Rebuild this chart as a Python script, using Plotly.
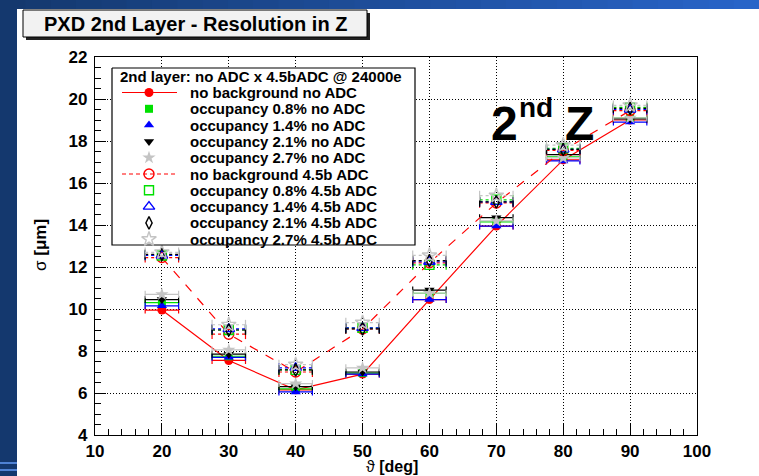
import plotly.graph_objects as go

# ---- data: spatial resolution in Z vs. polar angle, PXD 2nd layer ----
theta = [20, 30, 40, 50, 60, 70, 80, 90]
theta_half_bin = 2.5

no_bg_noadc = [9.95, 7.55, 6.15, 6.9, 10.45, 13.95, 17.1, 19.0]
occ08_noadc = [10.3, 7.75, 6.2, 6.95, 10.75, 14.15, 17.25, 19.1]
occ14_noadc = [10.15, 7.7, 6.05, 6.9, 10.45, 13.95, 17.05, 18.9]
occ21_noadc = [10.45, 7.85, 6.3, 7.0, 10.9, 14.35, 17.35, 19.05]
occ27_noadc = [10.7, 8.05, 6.45, 7.2, 10.75, 14.2, 17.2, 19.1]

no_bg_adc = [12.45, 8.8, 7.0, 9.05, 12.2, 15.05, 17.55, 19.45]
occ08_adc = [12.55, 9.0, 7.1, 9.1, 12.1, 15.2, 17.65, 19.6]
occ14_adc = [12.55, 9.05, 7.2, 9.1, 12.25, 15.1, 17.6, 19.5]
occ21_adc = [12.6, 9.0, 7.1, 9.05, 12.3, 15.1, 17.6, 19.55]
occ27_adc = [12.7, 9.25, 7.35, 9.35, 12.55, 15.4, 17.8, 19.7]

series_labels = [
    "no background no ADC",
    "occupancy 0.8% no ADC",
    "occupancy 1.4% no ADC",
    "occupancy 2.1% no ADC",
    "occupancy 2.7% no ADC",
    "no background 4.5b ADC",
    "occupancy 0.8% 4.5b ADC",
    "occupancy 1.4% 4.5b ADC",
    "occupancy 2.1% 4.5b ADC",
    "occupancy 2.7% 4.5b ADC",
]
legend_title = "2nd layer: no ADC x 4.5bADC @ 24000e"

x_ticks = [10, 20, 30, 40, 50, 60, 70, 80, 90, 100]
y_ticks = [4, 6, 8, 10, 12, 14, 16, 18, 20, 22]

RED, GREEN, BLUE, BLACK, GREY = "#ff0000", "#00e000", "#0000ff", "#000000", "#c4c4c4"

# (values, colour, symbol, size, connecting line dash or None, dashed error bars)
styles = [
    (no_bg_noadc, RED, "circle", 9, "solid", False),
    (occ08_noadc, GREEN, "square", 8, None, False),
    (occ14_noadc, BLUE, "triangle-up", 9, None, False),
    (occ21_noadc, BLACK, "triangle-down", 9, None, False),
    (occ27_noadc, GREY, "star", 10, None, False),
    (no_bg_adc, RED, "circle-open", 10, "dash", True),
    (occ08_adc, GREEN, "square-open", 9, None, True),
    (occ14_adc, BLUE, "triangle-up-open", 10, None, True),
    (occ21_adc, BLACK, "diamond-tall-open", 9, None, True),
    (occ27_adc, GREY, "star-open", 11, None, True),
]

FONT = "Liberation Sans, Arial, Helvetica, sans-serif"
W, H = 759, 476
L, R, T, B = 95, 697, 57, 435  # plot frame in pixels


def px2x(px):
    return (px - L) / (R - L)


def py2y(py):
    return (B - py) / (B - T)


fig = go.Figure()

for i, (vals, col, sym, size, dash, dashed_err) in enumerate(styles):
    if dashed_err:
        sx, sy = [], []
        for xv, yv in zip(theta, vals):
            sx += [xv - theta_half_bin, xv + theta_half_bin, None]
            sy += [yv, yv, None]
        fig.add_trace(go.Scatter(
            x=sx, y=sy, mode="lines", showlegend=False, hoverinfo="skip",
            line=dict(color=col, width=1.2, dash="3px,3px")))
        cx = [xv + s * theta_half_bin for xv in theta for s in (-1, 1)]
        cy = [yv for yv in vals for _ in (0, 1)]
        fig.add_trace(go.Scatter(
            x=cx, y=cy, mode="markers", showlegend=False, hoverinfo="skip",
            marker=dict(symbol="line-ns", size=7, color=col,
                        line=dict(color=col, width=1.2))))
        err = None
    else:
        err = dict(type="constant", value=theta_half_bin, color=col,
                   thickness=1.2, width=3.5)
    fig.add_trace(go.Scatter(
        x=theta, y=vals, name=series_labels[i],
        mode="lines+markers" if dash else "markers",
        line=dict(color=col, width=1.2, dash=dash if dash else "solid"),
        marker=dict(symbol=sym, size=size, color=col,
                    line=dict(color=col, width=1.4 if "open" in sym else 0)),
        error_x=err, showlegend=False))

# ---- hand-built legend box on a pixel-unit overlay axis ----
LEG_L, LEG_R, LEG_T, LEG_B = 112, 415, 68, 245
row0, row_step = 92.5, 16.3
sym_x, line_x0, line_x1, text_x = 149, 122, 177, 188

fig.add_trace(go.Scatter(
    x=[LEG_L, LEG_R, LEG_R, LEG_L, LEG_L], y=[LEG_T, LEG_T, LEG_B, LEG_B, LEG_T],
    xaxis="x2", yaxis="y2", mode="lines", fill="toself", fillcolor="white",
    line=dict(color="black", width=1.2), showlegend=False, hoverinfo="skip"))

annotations = []
for i, (vals, col, sym, size, dash, dashed_err) in enumerate(styles):
    ry = row0 + i * row_step
    if dash:
        fig.add_trace(go.Scatter(
            x=[line_x0, line_x1], y=[ry, ry], xaxis="x2", yaxis="y2",
            mode="lines", line=dict(color=col, width=1.2,
                                    dash="solid" if dash == "solid" else "4px,3px"),
            showlegend=False, hoverinfo="skip"))
    fig.add_trace(go.Scatter(
        x=[sym_x], y=[ry], xaxis="x2", yaxis="y2", mode="markers",
        marker=dict(symbol=sym, size=size, color=col,
                    line=dict(color=col, width=1.4 if "open" in sym else 0)),
        showlegend=False, hoverinfo="skip"))
    annotations.append(dict(
        x=text_x, y=ry, xref="x2", yref="y2", xanchor="left", yanchor="middle",
        text=series_labels[i], showarrow=False,
        font=dict(family=FONT, size=15, weight="bold", color="black")))

annotations.append(dict(
    x=118, y=76, xref="x2", yref="y2", xanchor="left", yanchor="middle",
    text=legend_title, showarrow=False,
    font=dict(family=FONT, size=15, weight="bold", color="black")))

# big "2nd Z" label
big = dict(family=FONT, size=48, weight="bold", color="black")
annotations.append(dict(
    x=px2x(489), y=py2y(123), xref="paper", yref="paper", xanchor="left",
    yanchor="middle", text="2", showarrow=False, font=big))
annotations.append(dict(
    x=px2x(517), y=py2y(108), xref="paper", yref="paper", xanchor="left",
    yanchor="middle", text="nd", showarrow=False,
    font=dict(family=FONT, size=28, weight="bold", color="black")))
annotations.append(dict(
    x=px2x(563), y=py2y(123), xref="paper", yref="paper", xanchor="left",
    yanchor="middle", text="Z", showarrow=False, font=big))

# axis titles
annotations.append(dict(
    x=px2x(40), y=py2y(245), xref="paper", yref="paper", textangle=-90,
    xanchor="center", yanchor="middle",
    text="σ <b>[μm]</b>", showarrow=False,
    font=dict(family=FONT, size=17, color="black")))
annotations.append(dict(
    x=px2x(392), y=py2y(466), xref="paper", yref="paper",
    xanchor="center", yanchor="middle",
    text="ϑ <b>[deg]</b>", showarrow=False,
    font=dict(family=FONT, size=16, color="black")))

# canvas title
annotations.append(dict(
    x=px2x(195), y=py2y(23.5), xref="paper", yref="paper",
    xanchor="center", yanchor="middle",
    text="PXD 2nd Layer - Resolution in Z", showarrow=False,
    font=dict(family=FONT, size=20, weight="bold", color="black")))

shapes = []
# slide frame: dark navy left strip and blue gradient top bar
shapes.append(dict(type="rect", xref="paper", yref="paper", layer="below",
                   x0=px2x(0), x1=px2x(17), y0=py2y(476), y1=py2y(0),
                   fillcolor="#14386e", line=dict(width=0)))
n_steps = 30
c0, c1 = (20, 56, 110), (40, 100, 200)
for k in range(n_steps):
    f = k / (n_steps - 1)
    c = tuple(round(a + (b - a) * f) for a, b in zip(c0, c1))
    shapes.append(dict(type="rect", xref="paper", yref="paper", layer="below",
                       x0=px2x(W * k / n_steps), x1=px2x(W * (k + 1) / n_steps + 1),
                       y0=py2y(9), y1=py2y(0),
                       fillcolor="rgb(%d,%d,%d)" % c, line=dict(width=0)))
for yy in (463, 470):
    shapes.append(dict(type="line", xref="paper", yref="paper", layer="below",
                       x0=px2x(0), x1=px2x(17), y0=py2y(yy), y1=py2y(yy),
                       line=dict(color="#4f82d4", width=2)))
# title box with drop shadow
shapes.append(dict(type="rect", xref="paper", yref="paper",
                   x0=px2x(26), x1=px2x(370), y0=py2y(40), y1=py2y(13),
                   fillcolor="#222222", line=dict(width=0)))
shapes.append(dict(type="rect", xref="paper", yref="paper",
                   x0=px2x(23), x1=px2x(367), y0=py2y(37), y1=py2y(10),
                   fillcolor="#f2f2f2", line=dict(color="black", width=1)))

axis_font = dict(family=FONT, size=17, weight="bold", color="black")
fig.update_layout(
    width=W, height=H,
    margin=dict(l=L, r=W - R, t=T, b=H - B, autoexpand=False),
    paper_bgcolor="white", plot_bgcolor="white",
    showlegend=False,
    xaxis=dict(range=[10, 100], tickvals=x_ticks, ticks="inside", ticklen=11,
               tickcolor="black", tickwidth=1, showline=True, mirror=True,
               linecolor="black", linewidth=1.3, showgrid=True, gridcolor="black",
               griddash="1px,2px", gridwidth=1, zeroline=False, tickfont=axis_font,
               minor=dict(dtick=2, ticks="inside", ticklen=6, tickcolor="black",
                          showgrid=False),
               ticklabelstandoff=0),
    yaxis=dict(range=[4, 22], tickvals=y_ticks, ticks="inside", ticklen=11,
               tickcolor="black", tickwidth=1, showline=True, mirror=True,
               linecolor="black", linewidth=1.3, showgrid=True, gridcolor="black",
               griddash="1px,2px", gridwidth=1, zeroline=False, tickfont=axis_font,
               minor=dict(dtick=0.5, ticks="inside", ticklen=6, tickcolor="black",
                          showgrid=False),
               ticklabelstandoff=3),
    xaxis2=dict(range=[L, R], overlaying="x", anchor="y2", visible=False,
                fixedrange=True),
    yaxis2=dict(range=[B, T], overlaying="y", anchor="x2", visible=False,
                fixedrange=True),
    annotations=annotations,
    shapes=shapes,
)

fig.write_html("out.html")
